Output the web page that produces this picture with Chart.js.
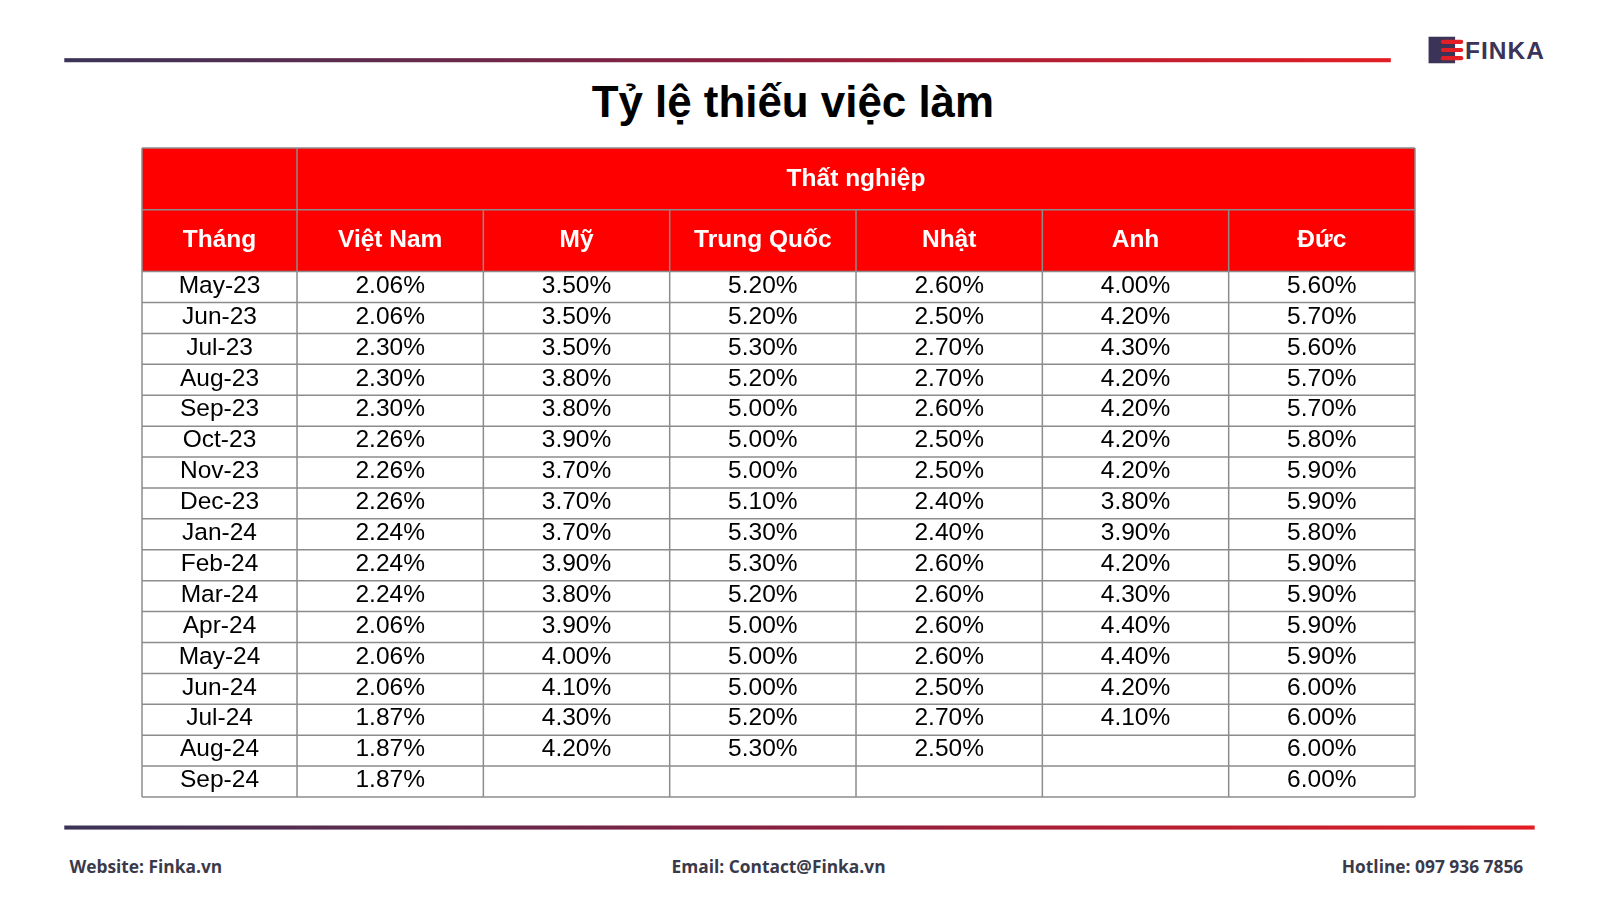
<!DOCTYPE html>
<html><head><meta charset="utf-8">
<script src="https://cdn.jsdelivr.net/npm/chart.js@4"></script>
<style>
body{margin:0;width:1600px;height:900px;background:#fff;position:relative;overflow:hidden;font-family:"Liberation Sans",Arial,sans-serif}
#deco{position:absolute;left:0;top:0;width:1560px;height:878px;transform:scale(1.0204);transform-origin:0 0}
#wrap{position:absolute;left:0;top:0;width:1600px;height:900px}
.line{position:absolute;height:4px;background:linear-gradient(90deg,#3b3458,#8a2040 50%,#e31e24)}
h1{position:absolute;left:0;width:1554px;top:76px;margin:0;text-align:center;font-size:43px;font-weight:bold;color:#000}
.foot{position:absolute;top:838px;font-family:"Open Sans",sans-serif;font-weight:bold;font-size:17px;color:#3a3a4a}
#logo{position:absolute;left:1400px;top:36px;font-family:"Liberation Sans";font-size:24px;color:#3b3458;font-weight:bold;letter-spacing:1px}
#logo span.b{display:inline-block;width:26px;height:26px;background:#3b3458;vertical-align:-4px;margin-right:2px;position:relative}
#logo span.b i{position:absolute;left:12px;width:22px;height:4px;background:#e31e24;border-radius:2px}
</style></head>
<body>
<div id="deco">
<div class="line" style="left:63px;top:57px;width:1300px"></div>
<div id="logo"><span class="b"><i style="top:3px"></i><i style="top:11px"></i><i style="top:19px"></i></span>&nbsp;FINKA</div>
<h1>Tỷ lệ thiếu việc làm</h1>
<div class="line" style="left:63px;top:809px;width:1441px"></div>
<div class="foot" style="left:68px">Website: Finka.vn</div>
<div class="foot" style="left:658px">Email: Contact@Finka.vn</div>
<div class="foot" style="left:1315px">Hotline: 097 936 7856</div>
</div>
<div id="wrap"><canvas id="c" width="1600" height="900"></canvas></div>
<script>
const months = ['May-23','Jun-23','Jul-23','Aug-23','Sep-23','Oct-23','Nov-23','Dec-23','Jan-24','Feb-24','Mar-24','Apr-24','May-24','Jun-24','Jul-24','Aug-24','Sep-24']
const countries = ['Việt Nam','Mỹ','Trung Quốc','Nhật','Anh','Đức']
const groupTitle = 'Thất nghiệp'
const firstHeader = 'Tháng'
const vietnam = [2.06,2.06,2.30,2.30,2.30,2.26,2.26,2.26,2.24,2.24,2.24,2.06,2.06,2.06,1.87,1.87,1.87]
const usa = [3.50,3.50,3.50,3.80,3.80,3.90,3.70,3.70,3.70,3.90,3.80,3.90,4.00,4.10,4.30,4.20,null]
const china = [5.20,5.20,5.30,5.20,5.00,5.00,5.00,5.10,5.30,5.30,5.20,5.00,5.00,5.00,5.20,5.30,null]
const japan = [2.60,2.50,2.70,2.70,2.60,2.50,2.50,2.40,2.40,2.60,2.60,2.60,2.60,2.50,2.70,2.50,null]
const uk = [4.00,4.20,4.30,4.20,4.20,4.20,4.20,3.80,3.90,4.20,4.30,4.40,4.40,4.20,4.10,null,null]
const germany = [5.60,5.70,5.60,5.70,5.70,5.80,5.90,5.90,5.80,5.90,5.90,5.90,5.90,6.00,6.00,6.00,6.00]
const series = [vietnam, usa, china, japan, uk, germany]

// column boundaries in x units: month column is narrower
const colEdges = [0, 0.832, 1.832, 2.832, 3.832, 4.832, 5.832, 6.832]
// row boundaries in y units: two header rows of 2 units, then 1 per month
const rowEdges = [0, 2, 4]
months.forEach((m, i) => rowEdges.push(5 + i))

const tablePlugin = {
    id: 'table',
    afterDraw(chart){
        const c = chart.ctx
        const x = chart.scales.x, y = chart.scales.y
        const px = v => x.getPixelForValue(v)
        const py = v => y.getPixelForValue(v)
        const nR = rowEdges.length - 1
        c.save()
        c.fillStyle = '#ff0000'
        c.fillRect(px(0), py(0), px(colEdges[7]) - px(0), py(4) - py(0))
        c.strokeStyle = '#8c8c8c'
        c.lineWidth = 1.5
        rowEdges.forEach(r => {
            c.beginPath()
            c.moveTo(px(0), py(r)); c.lineTo(px(colEdges[7]), py(r)); c.stroke()
        })
        colEdges.forEach((e, i) => {
            c.beginPath()
            const y0 = (i >= 2 && i <= 6) ? py(2) : py(0)
            c.moveTo(px(e), y0); c.lineTo(px(e), py(rowEdges[nR])); c.stroke()
        })
        c.textAlign = 'center'
        c.textBaseline = 'middle'
        c.fillStyle = '#fff'
        c.font = 'bold 24.5px "Liberation Sans", Arial, sans-serif'
        c.fillText(groupTitle, (px(colEdges[1]) + px(colEdges[7])) / 2, py(1))
        c.fillText(firstHeader, (px(colEdges[0]) + px(colEdges[1])) / 2, py(3))
        countries.forEach((n, j) => c.fillText(n, (px(colEdges[j+1]) + px(colEdges[j+2])) / 2, py(3)))
        c.fillStyle = '#000'
        c.font = '24.5px "Liberation Sans", Arial, sans-serif'
        months.forEach((m, i) => {
            const yc = (py(rowEdges[i+2]) + py(rowEdges[i+3])) / 2 - 1
            c.fillText(m, (px(colEdges[0]) + px(colEdges[1])) / 2, yc)
            series.forEach((s, j) => {
                if(s[i] == null) return
                c.fillText(s[i].toFixed(2) + '%', (px(colEdges[j+1]) + px(colEdges[j+2])) / 2, yc)
            })
        })
        c.restore()
    }
}

new Chart(document.getElementById('c'), {
    type: 'scatter',
    data: { datasets: [{ data: [] }] },
    options: {
        responsive: false,
        animation: false,
        devicePixelRatio: 1,
        layout: { padding: { left: 142, right: 185, top: 148, bottom: 103 } },
        plugins: { legend: { display: false }, tooltip: { enabled: false } },
        scales: {
            x: { type: 'linear', min: 0, max: colEdges[7], display: false },
            y: { type: 'linear', min: 0, max: rowEdges[rowEdges.length - 1], reverse: true, display: false }
        }
    },
    plugins: [tablePlugin]
})
</script>
</body></html>
